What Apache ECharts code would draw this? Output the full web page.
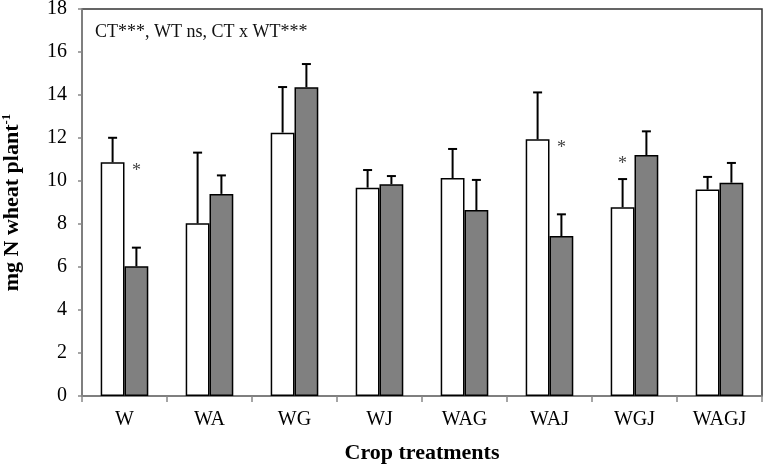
<!DOCTYPE html>
<html>
<head>
<meta charset="utf-8">
<script src="https://cdn.jsdelivr.net/npm/echarts@6/dist/echarts.min.js"></script>
<style>html,body{margin:0;padding:0;background:#fff}#c{width:765px;height:469px}</style>
</head>
<body>
<div id="c"></div>
<script>
const categories = ['W', 'WA', 'WG', 'WJ', 'WAG', 'WAJ', 'WGJ', 'WAGJ'];
const whiteValues = [10.87, 8.03, 12.25, 9.69, 10.14, 11.94, 8.78, 9.60];
const whiteErrors = [1.14, 3.29, 2.12, 0.82, 1.35, 2.18, 1.31, 0.59];
const greyValues = [6.03, 9.40, 14.36, 9.85, 8.65, 7.44, 11.21, 9.92];
const greyErrors = [0.87, 0.86, 1.08, 0.38, 1.40, 1.01, 1.10, 0.92];
const significance = ['*', '', '', '', '', '*', '*', ''];
const yTicks = [0, 2, 4, 6, 8, 10, 12, 14, 16, 18];
const statsNote = 'CT***, WT ns, CT x WT***';

const SERIF = '"Liberation Serif", "Times New Roman", serif';
const BAR_FRAC = 0.28;

const chart = echarts.init(document.getElementById('c'), null, {renderer: 'canvas'});

function errRender(side) {
  return function (params, api) {
    const i = api.value(0), v = api.value(1), e = api.value(2);
    const band = api.size([1, 0])[0];
    const bw = band * BAR_FRAC;
    const base = api.coord([i, v]);
    const top = api.coord([i, v + e]);
    const x = base[0] + side * bw / 2;
    const cap = 4.5;
    return {
      type: 'group',
      children: [
        {type: 'line', shape: {x1: x, y1: base[1], x2: x, y2: top[1]}, style: {stroke: '#000', lineWidth: 2}},
        {type: 'line', shape: {x1: x - cap, y1: top[1], x2: x + cap, y2: top[1]}, style: {stroke: '#000', lineWidth: 2}}
      ]
    };
  };
}

function starRender(params, api) {
  const i = api.value(0);
  const w = whiteValues[i], g = greyValues[i];
  const star = significance[i];
  if (!star) return null;
  const band = api.size([1, 0])[0];
  const bw = band * BAR_FRAC;
  const hi = Math.max(w, g);
  const side = w >= g ? 1 : -1;
  const c = api.coord([i, hi]);
  return {
    type: 'text',
    style: {
      text: star, x: c[0] + side * bw / 2, y: c[1] + 9,
      align: 'center', verticalAlign: 'middle',
      font: '18px ' + SERIF, fill: '#444'
    }
  };
}

const option = {
  animation: false,
  backgroundColor: '#fff',
  grid: {
    left: 82, right: 3, top: 9, bottom: 73,
    containLabel: false, outerBoundsMode: 'none',
    show: true, borderColor: '#333', borderWidth: 1.5, backgroundColor: 'transparent'
  },
  xAxis: {
    type: 'category',
    data: categories,
    boundaryGap: true,
    axisLine: {lineStyle: {color: '#888', width: 1.5}},
    axisTick: {show: true, length: 6, lineStyle: {color: '#888', width: 1.5}},
    axisLabel: {color: '#000', fontFamily: SERIF, fontSize: 20, margin: 14},
    name: 'Crop treatments',
    nameLocation: 'middle',
    nameGap: 46,
    nameTextStyle: {color: '#000', fontFamily: SERIF, fontSize: 22, fontWeight: 'bold'},
    splitLine: {show: false}
  },
  yAxis: {
    type: 'value',
    min: yTicks[0], max: yTicks[yTicks.length - 1], interval: yTicks[1] - yTicks[0],
    axisLine: {show: true, lineStyle: {color: '#888', width: 1.5}},
    axisTick: {show: true, length: 4, lineStyle: {color: '#888', width: 1.5}},
    axisLabel: {color: '#000', fontFamily: SERIF, fontSize: 20, margin: 15},
    splitLine: {show: false},
    name: '{m|mg N wheat plant}{s|-1}',
    nameLocation: 'middle',
    nameGap: 58,
    nameRotate: 90,
    nameTextStyle: {
      color: '#000', fontFamily: SERIF, fontSize: 22, fontWeight: 'bold',
      rich: {
        m: {fontFamily: SERIF, fontSize: 22, fontWeight: 'bold', color: '#000', lineHeight: 24},
        s: {fontFamily: SERIF, fontSize: 13, fontWeight: 'bold', color: '#000', verticalAlign: 'top', lineHeight: 24, padding: [0, 0, 10, 0]}
      }
    }
  },
  graphic: [{
    type: 'text', left: 95, top: 23, z: 10,
    style: {text: statsNote, font: '18px ' + SERIF, fill: '#111'}
  }],
  series: [
    {
      type: 'bar', data: whiteValues, barWidth: (BAR_FRAC * 100) + '%', barGap: '0%',
      itemStyle: {color: '#fff', borderColor: '#000', borderWidth: 1.5}, z: 2
    },
    {
      type: 'bar', data: greyValues, barWidth: (BAR_FRAC * 100) + '%', barGap: '0%',
      itemStyle: {color: '#808080', borderColor: '#000', borderWidth: 1.5}, z: 2
    },
    {
      type: 'custom', renderItem: errRender(-1), z: 3,
      data: whiteValues.map((v, i) => [i, v, whiteErrors[i]]),
      encode: {x: 0, y: 1}, silent: true
    },
    {
      type: 'custom', renderItem: errRender(1), z: 3,
      data: greyValues.map((v, i) => [i, v, greyErrors[i]]),
      encode: {x: 0, y: 1}, silent: true
    },
    {
      type: 'custom', renderItem: starRender, z: 4,
      data: categories.map((c, i) => [i, Math.max(whiteValues[i], greyValues[i])]),
      encode: {x: 0, y: 1}, silent: true
    }
  ]
};
chart.setOption(option);
</script>
</body>
</html>
